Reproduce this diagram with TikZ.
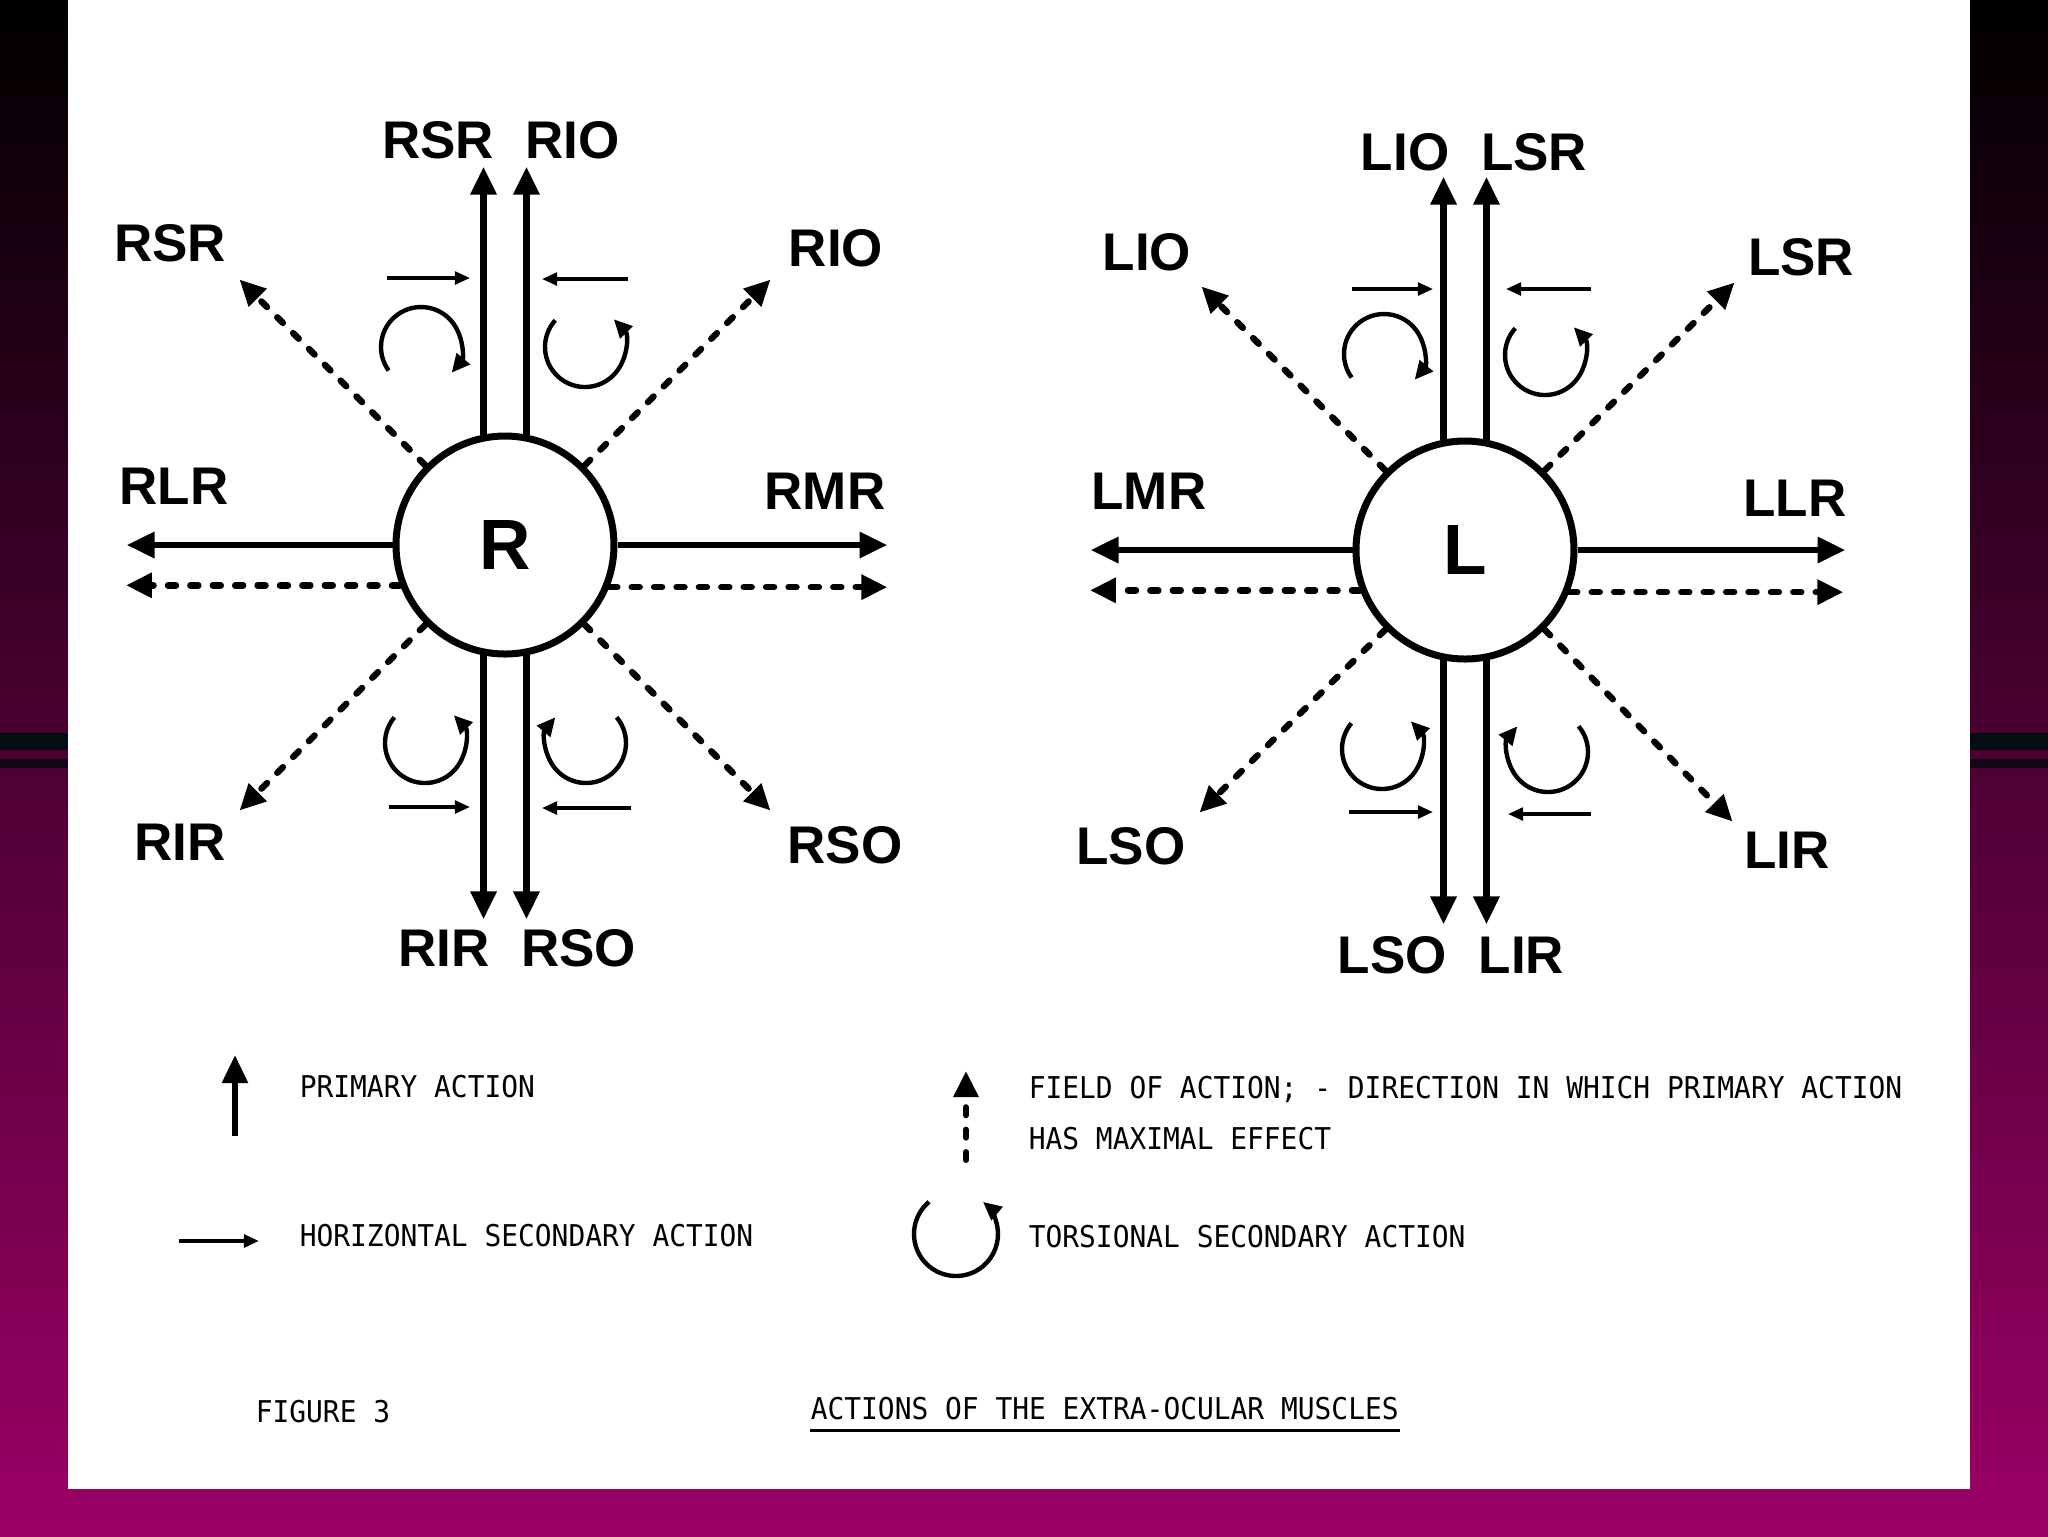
\documentclass[tikz,border=0pt]{standalone}
\usepackage{fontspec}
\setmainfont{Liberation Sans}
\newfontfamily\monof{DejaVu Sans Mono}
\usetikzlibrary{arrows.meta}
\definecolor{magbot}{RGB}{155,0,102}
\definecolor{stripe}{RGB}{2,14,18}
\newcommand{\legt}[1]{\scalebox{0.93}[1]{#1}}
\begin{document}
\begin{tikzpicture}[x=0.25pt,y=-0.25pt,
  big/.style={font=\fontsize{13.25pt}{15pt}\selectfont\bfseries, inner sep=0pt},
  eye/.style={circle, draw, line width=1.75pt, minimum size=54.5pt, inner sep=0pt, fill=white,
              font=\fontsize{17.8pt}{19pt}\selectfont\bfseries},
  prim/.style={line width=1.7pt, -{Triangle[length=7pt,width=6.2pt]}},
  fld/.style={line width=1.6pt, line cap=round, dash pattern=on 2pt off 3.6pt,
              -{Triangle[length=6.5pt,width=6pt]}},
  sec/.style={line width=0.85pt, -{Triangle[length=3.8pt,width=3.2pt]}},
  tors/.style={line width=1.1pt, -{Triangle[length=4.6pt,width=4.2pt]}},
  leg/.style={font=\monof\fontsize{7.5pt}{9pt}\selectfont, anchor=west, inner sep=0pt}]
\useasboundingbox (0,0) rectangle (2048,1536);
\shade[top color=black, bottom color=magbot] (0,0) rectangle (2048,1536);
\fill[stripe] (0,733) rectangle (2048,750);
\fill[stripe!80!magbot!60!black] (0,759) rectangle (2048,768);
\fill[white] (68,0) rectangle (1970,1489);

% ---------- Right eye ----------
\node[eye] (R) at (505,545) {R};
\draw[prim] (R.101) -- ++(0,-268);
\draw[prim] (R.79) -- ++(0,-268);
\draw[prim] (R.259) -- ++(0,264);
\draw[prim] (R.281) -- ++(0,264);
\draw[prim] (R.west) -- ++(-266,0);
\draw[prim] (R.east) -- ++(270,0);
\draw[fld] (R.201.5) -- ++(-274,0);
\draw[fld] (R.338.5) -- ++(278,0);
\draw[fld] (R.135) -- ++(-186,-186);
\draw[fld] (R.45) -- ++(186,-186);
\draw[fld] (R.225) -- ++(-186,186);
\draw[fld] (R.315) -- ++(186,186);
\draw[sec] ([shift={(-118,-267)}]R.center) -- ([shift={(-35,-267)}]R.center);
\draw[sec] ([shift={(123,-266)}]R.center) -- ([shift={(37,-266)}]R.center);
\draw[sec] ([shift={(-116,262)}]R.center) -- ([shift={(-35,262)}]R.center);
\draw[sec] ([shift={(126,263)}]R.center) -- ([shift={(37,263)}]R.center);
\draw[tors] ([shift={(-84,-198)}]R.center) ++(-216:40) arc[start angle=-216, end angle=40, radius=40];
\draw[tors] ([shift={(80,-198)}]R.center) ++(-138:40) arc[start angle=-138, end angle=-404, radius=40];
\draw[tors] ([shift={(-80,198)}]R.center) ++(-140:40) arc[start angle=-140, end angle=-404, radius=40];
\draw[tors] ([shift={(81,198)}]R.center) ++(-40:40) arc[start angle=-40, end angle=220, radius=40];
\node[big] (rtop) at (501,140) {RSR\hspace{0.6em}RIO};
\node[big] (rbot) at (517,948) {RIR\hspace{0.6em}RSO};
\node[big] (rsr) at (170,243) {RSR};
\node[big] (rio) at (836,248) {RIO};
\node[big] (rlr) at (174,486) {RLR};
\node[big] (rmr) at (825,491) {RMR};
\node[big] (rir) at (180,842) {RIR};
\node[big] (rso) at (845,845) {RSO};

% ---------- Left eye ----------
\node[eye] (L) at (1465,550) {L};
\draw[prim] (L.101) -- ++(0,-263);
\draw[prim] (L.79) -- ++(0,-263);
\draw[prim] (L.259) -- ++(0,264);
\draw[prim] (L.281) -- ++(0,264);
\draw[prim] (L.west) -- ++(-262,0);
\draw[prim] (L.east) -- ++(268,0);
\draw[fld] (L.201.5) -- ++(-270,0);
\draw[fld] (L.338.5) -- ++(274,0);
\draw[fld] (L.135) -- ++(-184,-184);
\draw[fld] (L.45) -- ++(190,-188);
\draw[fld] (L.225) -- ++(-186,183);
\draw[fld] (L.315) -- ++(188,192);
\draw[sec] ([shift={(-113,-261)}]L.center) -- ([shift={(-32,-261)}]L.center);
\draw[sec] ([shift={(126,-261)}]L.center) -- ([shift={(41,-261)}]L.center);
\draw[sec] ([shift={(-116,262)}]L.center) -- ([shift={(-32,262)}]L.center);
\draw[sec] ([shift={(126,264)}]L.center) -- ([shift={(43,264)}]L.center);
\draw[tors] ([shift={(-81,-196)}]L.center) ++(-216:40) arc[start angle=-216, end angle=40, radius=40];
\draw[tors] ([shift={(80,-195)}]L.center) ++(-138:40) arc[start angle=-138, end angle=-404, radius=40];
\draw[tors] ([shift={(-83,199)}]L.center) ++(-140:40) arc[start angle=-140, end angle=-404, radius=40];
\draw[tors] ([shift={(83,202)}]L.center) ++(-40:40) arc[start angle=-40, end angle=220, radius=40];
\node[big] (ltop) at (1474,152) {LIO\hspace{0.6em}LSR};
\node[big] (lbot) at (1451,955) {LSO\hspace{0.6em}LIR};
\node[big] (lio) at (1147,252) {LIO};
\node[big] (lsr) at (1801,257) {LSR};
\node[big] (lmr) at (1149,491) {LMR};
\node[big] (llr) at (1795,498) {LLR};
\node[big] (lso) at (1131,846) {LSO};
\node[big] (lir) at (1787,850) {LIR};

% ---------- Legend ----------
\coordinate (pa1) at (235,1136); \coordinate (pa2) at (235,1055);
\draw[prim, line width=1.5pt] (pa1) -- (pa2);
\node[leg] (pt) at (299,1087) {\legt{PRIMARY ACTION}};
\coordinate (ha1) at (179,1241); \coordinate (ha2) at (259,1241);
\draw[sec, line width=1.1pt] (ha1) -- (ha2);
\node[leg] (ht) at (299,1236) {\legt{HORIZONTAL SECONDARY ACTION}};
\coordinate (fa1) at (966,1160); \coordinate (fa2) at (966,1071);
\draw[fld, line width=1.5pt] (fa1) -- (fa2);
\node[leg] (ft1) at (1028,1089) {\legt{FIELD OF ACTION; - DIRECTION IN WHICH PRIMARY ACTION}};
\node[leg] (ft2) at (1028,1139) {\legt{HAS MAXIMAL EFFECT}};
\coordinate (tc) at (956,1234);
\draw[tors] (tc) ++(-130:42) arc[start angle=-130, end angle=-410, radius=42];
\node[leg] (tt) at (1028,1237) {\legt{TORSIONAL SECONDARY ACTION}};
\node[leg] (fig) at (255,1412) {\legt{FIGURE 3}};
\node[leg] (title) at (810,1409) {\legt{ACTIONS OF THE EXTRA-OCULAR MUSCLES}};
\draw[line width=0.7pt] ([yshift=-2.6pt]title.base west) -- ([yshift=-2.6pt]title.base east);
\end{tikzpicture}
\end{document}
